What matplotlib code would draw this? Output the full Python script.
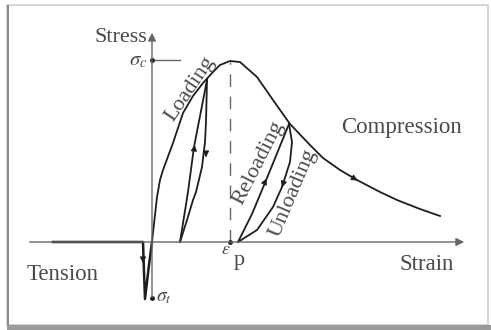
import matplotlib.pyplot as plt
from matplotlib.patches import Rectangle

plt.rcParams['font.family'] = ['Liberation Serif', 'DejaVu Serif']
plt.rcParams['mathtext.fontset'] = 'stix'

# schematic values (strain, stress), origin at axes crossing
env_strain = [-99, -9, -8, -7, -3, 0, 3, 5, 8, 11, 21, 31, 41, 51, 61, 68, 78,
              88, 105, 121, 138, 158, 171, 188, 205, 228, 245, 268, 288]
env_stress = [0, 0, -30, -57, -23, 0, 27, 45, 62, 72, 99, 129, 146, 159, 170, 177, 181,
              180, 165, 142, 118, 97, 84, 72, 62, 50, 42, 33, 26]

reload1_strain = [28, 36, 42, 55]
reload1_stress = [0, 50, 95, 162]
unload1_strain = [55, 54, 53, 50, 44, 41, 35, 28]
unload1_stress = [162, 120, 100, 75, 50, 42, 22, 0]

reload2_strain = [86, 100, 115, 128, 137]
reload2_stress = [0, 28, 64, 96, 118]
unload2_strain = [137, 140, 138, 130, 121, 105, 86]
unload2_stress = [118, 100, 80, 55, 35, 12, 0]

sigma_c = 182
sigma_t = -56
eps_p = 78

fig = plt.figure(figsize=(4.91, 3.30), dpi=100)
ax = fig.add_axes([0, 0, 1, 1])
ax.set_xlim(-152, 339)
ax.set_ylim(-88, 242)
ax.axis('off')

line_c = '#1e1e1e'
axis_c = '#666666'
text_c = '#4a4a4a'

# frame with shadow
fig.patches.append(Rectangle((7 / 491, 5 / 330), 481 / 491, 320 / 330, transform=fig.transFigure,
                             fill=False, ec='#d0d0d0', lw=1.2))
fig.patches.append(Rectangle((7 / 491, 5 / 330), 1.5 / 491, 320 / 330, transform=fig.transFigure,
                             color='#8a8a8a', lw=0))
fig.patches.append(Rectangle((7 / 491, 0), 484 / 491, 5 / 330, transform=fig.transFigure,
                             color='#9a9a9a', lw=0))

# axes
ax.annotate('', xy=(315, 0), xytext=(-125, 0),
            arrowprops=dict(arrowstyle='-|>', color=axis_c, lw=1, mutation_scale=12))
ax.annotate('', xy=(0, 212), xytext=(0, -58),
            arrowprops=dict(arrowstyle='-|>', color=axis_c, lw=1, mutation_scale=12))
ax.plot([0, 28], [sigma_c, sigma_c], color=axis_c, lw=1)
ax.plot([eps_p, eps_p], [0, 180], color=axis_c, lw=1, dashes=(9, 7))
ax.plot([0, eps_p, 0], [sigma_c, 0, sigma_t], 'o', color=line_c, ms=2.5)

# curves
ax.plot(env_strain[:6], env_stress[:6], color=line_c, lw=1.8)
ax.plot(env_strain[5:], env_stress[5:], color=line_c, lw=1.3)
ax.plot(reload1_strain, reload1_stress, color=line_c, lw=1.3)
ax.plot(unload1_strain, unload1_stress, color=line_c, lw=1.3)
ax.plot(reload2_strain, reload2_stress, color=line_c, lw=1.3)
ax.plot(unload2_strain, unload2_stress, color=line_c, lw=1.3)

# direction arrows
arrows = [((42, 92), (43, 100)), ((54, 90), (54, 82)), ((112, 58), (116, 66)),
          ((131, 58), (129, 52)), ((-9, -15), (-9, -24)), ((203, 63), (208, 60))]
for start, end in arrows:
    ax.annotate('', xy=end, xytext=start,
                arrowprops=dict(arrowstyle='-|>', color=line_c, lw=0.8, mutation_scale=9))

# labels
ax.text(-31, 204, 'Stress', fontsize=16, color=text_c, ha='center', va='center')
ax.text(-4, 181, r'$\sigma_c$', fontsize=15, color=text_c, ha='right', va='center')
ax.text(38, 153, 'Loading', fontsize=16, color=text_c, ha='center', va='center', rotation=56)
ax.text(107, 79, 'Reloading', fontsize=16, color=text_c, ha='center', va='center', rotation=63)
ax.text(141, 49, 'Unloading', fontsize=16, color=text_c, ha='center', va='center', rotation=67)
ax.text(250, 114, 'Compression', fontsize=16.5, color=text_c, ha='center', va='center')
ax.text(-89, -33, 'Tension', fontsize=16.5, color=text_c, ha='center', va='center')
ax.text(275, -23, 'Strain', fontsize=16.5, color=text_c, ha='center', va='center')
ax.text(74, -8, r'$\varepsilon$', fontsize=13, color=text_c, ha='center', va='center')
ax.text(87, -18, 'p', fontsize=16, color=text_c, ha='center', va='center')
ax.text(4, -56, r'$\sigma_t$', fontsize=14, color=text_c, ha='left', va='center')

fig.savefig('out.png', dpi=100, facecolor='white')
